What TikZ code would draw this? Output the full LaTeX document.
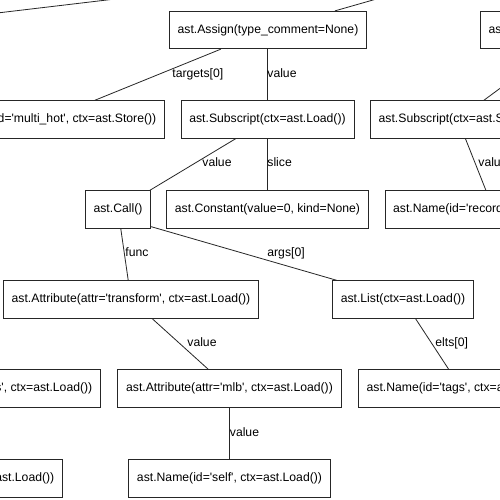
\documentclass[tikz,border=0pt]{standalone}
\usepackage{fontspec}
\setmainfont{Liberation Sans}
\newcommand{\sq}{\textquotesingle}
\begin{document}
\begin{tikzpicture}[x=1pt,y=-1pt,
  astbox/.style={draw=black!85, line width=0.8pt, font=\fontsize{12.2}{14}\selectfont,
    inner xsep=8.3pt, inner ysep=0pt, minimum height=37.5pt, text height=8.9pt, text depth=2.6pt},
  lbl/.style={font=\fontsize{12.2}{14}\selectfont, inner sep=0pt, anchor=west,
    text height=8.9pt, text depth=2.6pt},
  conn/.style={draw=black!85, line width=0.8pt}]
\fill[white] (0,0) rectangle (500,500);
\useasboundingbox (0,0) rectangle (500,500);
\clip (0,0) rectangle (500,500);

\coordinate (root) at (562,-54);
\coordinate (leftA) at (-146,30);

\node[astbox] (assign) at (268,30) {ast.Assign(type\_comment=None)};
\node[astbox, anchor=west] (assignR) at (480,30) {ast.Assign(type\_comment=None)};
\node[astbox, anchor=east] (multihot) at (165,119.5) {ast.Name(id=\sq multi\_hot\sq, ctx=ast.Store())};
\node[astbox] (sub) at (267.5,119.5) {ast.Subscript(ctx=ast.Load())};
\node[astbox, anchor=west] (subR) at (370,119.5) {ast.Subscript(ctx=ast.Store())};
\node[astbox] (call) at (118,209.5) {ast.Call()};
\node[astbox] (const) at (267.5,209.5) {ast.Constant(value=0, kind=None)};
\node[astbox, anchor=west] (rec) at (384.5,209.5) {ast.Name(id=\sq record\sq, ctx=ast.Load())};
\node[astbox] (transf) at (131,299.5) {ast.Attribute(attr=\sq transform\sq, ctx=ast.Load())};
\node[astbox] (list) at (403,299.5) {ast.List(ctx=ast.Load())};
\node[astbox, anchor=east] (leftB) at (101,388.5) {ast.Name(id=\sq tags\sq, ctx=ast.Load())};
\node[astbox] (mlb) at (229.5,388.5) {ast.Attribute(attr=\sq mlb\sq, ctx=ast.Load())};
\node[astbox, anchor=west] (tags) at (358,388.5) {ast.Name(id=\sq tags\sq, ctx=ast.Load())};
\node[astbox, anchor=east] (leftC) at (63,478.5) {ast.Name(id=\sq self\sq, ctx=ast.Load())};
\node[astbox] (self) at (229.5,478.5) {ast.Name(id=\sq self\sq, ctx=ast.Load())};

\draw[conn] (root) -- (assign);
\draw[conn] (root) -- (leftA);
\draw[conn] (assign) -- (multihot) node[lbl] (l1) at (172,74) {targets[0]};
\draw[conn] (assign.south -| sub) -- (sub) node[lbl] (l2) at (267,74) {value};
\draw[conn] (assignR) -- (subR);
\draw[conn] (sub) -- (call) node[lbl] (l3) at (202,163) {value};
\draw[conn] (sub) -- (const) node[lbl] (l4) at (267,163) {slice};
\draw[conn] (subR) -- (rec) node[lbl] (l5) at (478,163) {value};
\draw[conn] (call) -- (transf) node[lbl] (l6) at (125,253) {func};
\draw[conn] ([yshift=2pt]call.south east) -- (list) node[lbl] (l7) at (267,253) {args[0]};
\draw[conn] (transf) -- (mlb) node[lbl] (l8) at (187,343) {value};
\draw[conn] (list) -- (tags) node[lbl] (l9) at (435,343) {elts[0]};
\draw[conn] (mlb) -- (self) node[lbl] (l10) at (229.5,433) {value};
\end{tikzpicture}
\end{document}
